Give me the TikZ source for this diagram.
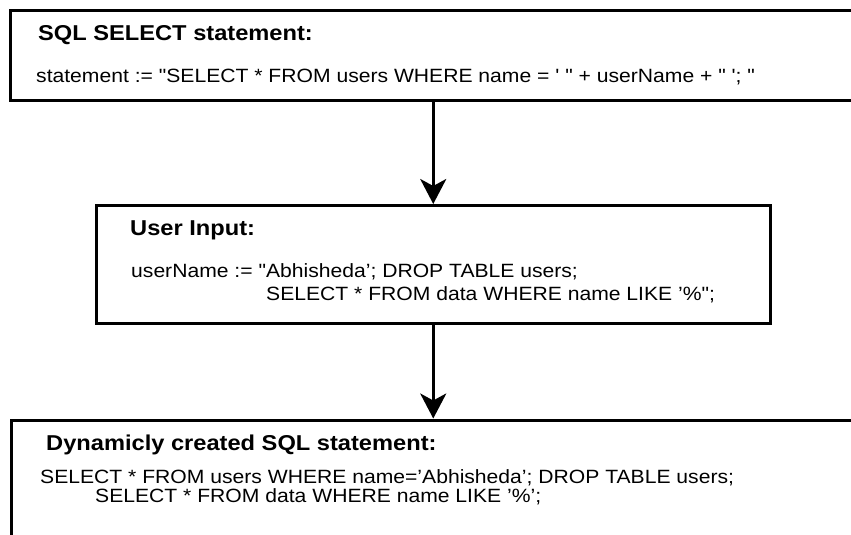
\documentclass[tikz,border=0pt]{standalone}
\usepackage{fontspec}
\setmainfont[Ligatures=TeXOff]{Liberation Sans}
\usetikzlibrary{arrows.meta,positioning}

% text is a little wider than high in the picture
\newcommand{\wide}[1]{\scalebox{1.1}[1]{#1}}

\tikzset{
  box/.style={draw, line width=3pt, inner sep=0pt},
  head/.style={anchor=base west, inner sep=0pt, font=\fontsize{21.5}{21.5}\selectfont\bfseries},
  code/.style={anchor=base west, inner sep=0pt, font=\fontsize{19.2}{19.2}\selectfont},
  flow/.style={-{Stealth[length=25pt,width=26pt,inset=7pt]}, line width=3pt}
}

\begin{document}
\begin{tikzpicture}[x=1pt,y=-1pt]
  \clip (0,0) rectangle (851,535);

  % Kaesten
  \node[box, minimum width=860pt, minimum height=89.5pt] (select) at (440,55.25) {};
  \node[box, minimum width=674.5pt, minimum height=118pt] (input) at (433.25,264.5) {};
  \node[box, minimum width=858.5pt, minimum height=140pt] (result) at (440.75,490) {};

  % Texte
  \node[head] (selecthead) at (38,40.5) {\wide{SQL SELECT statement:}};
  \node[code] (selectcode) at (36,82) {\wide{statement := "SELECT * FROM users WHERE name = ' " + userName + " '; "}};

  \node[head] (inputhead) at (130,235) {\wide{User Input:}};
  \node[code] (inputone) at (131,277) {\wide{userName := "Abhisheda’; DROP TABLE users;}};
  \node[code] (inputtwo) at (266,300) {\wide{SELECT * FROM data WHERE name LIKE ’\%";}};

  \node[head] (resulthead) at (46,450) {\wide{Dynamicly created SQL statement:}};
  \node[code] (resultone) at (40,483) {\wide{SELECT * FROM users WHERE name=’Abhisheda’; DROP TABLE users;}};
  \node[code] (resulttwo) at (95,502) {\wide{SELECT * FROM data WHERE name LIKE ’\%’;}};

  % Pfeile
  \draw[flow] (select.south -| input.north) -- (input.north);
  \draw[flow] (input.south) -- (result.north -| input.south);
\end{tikzpicture}
\end{document}
